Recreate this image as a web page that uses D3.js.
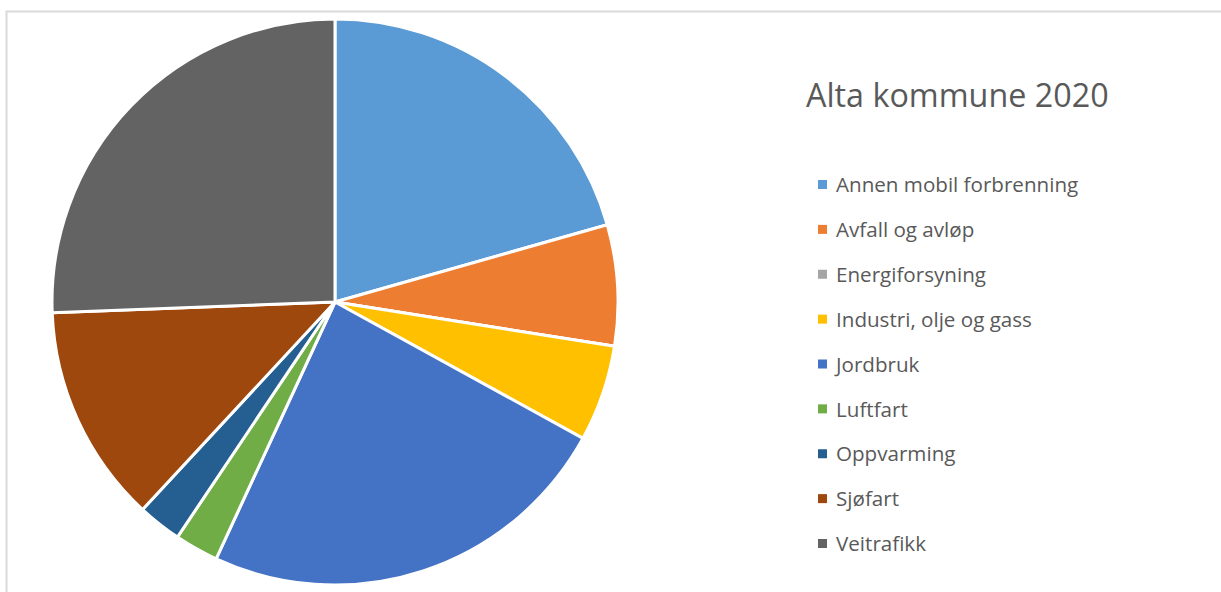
<!DOCTYPE html>
<html>
<head>
<meta charset="utf-8">
<script src="https://cdn.jsdelivr.net/npm/d3@7"></script>
<style>
  body { margin: 0; background: #fff; }
  text { font-family: "Open Sans", sans-serif; fill: #595959; font-variant-ligatures: none; }
</style>
</head>
<body>
<svg id="chart" width="1221" height="592"></svg>
<script>
const categories = ["Annen mobil forbrenning", "Avfall og avløp", "Energiforsyning",
    "Industri, olje og gass", "Jordbruk", "Luftfart", "Oppvarming", "Sjøfart", "Veitrafikk"];
const values = [20.6, 6.9, 0.0, 5.5, 23.9, 2.5, 2.5, 12.5, 25.6];
const colors = ["#5b9bd5", "#ed7d31", "#a5a5a5", "#ffc000", "#4472c4",
    "#70ad47", "#255e91", "#9e480e", "#636363"];
const title = "Alta kommune 2020";

const svg = d3.select("#chart");

// chart frame
svg.append("rect")
    .attr("x", 6.5).attr("y", 11.5)
    .attr("width", 1240).attr("height", 620)
    .attr("fill", "none")
    .attr("stroke", "#d9d9d9")
    .attr("stroke-width", 2);

const cx = 335, cy = 302, radius = 283;

const pie = d3.pie().sort(null).value(d => d);
const arc = d3.arc().innerRadius(0).outerRadius(radius);

const color = d3.scaleOrdinal().domain(categories).range(colors);

svg.append("g")
    .attr("transform", `translate(${cx},${cy})`)
    .selectAll("path")
    .data(pie(values))
    .join("path")
    .attr("d", arc)
    .attr("fill", (d, i) => color(categories[i]))
    .attr("stroke", "#fff")
    .attr("stroke-width", 3)
    .attr("stroke-linejoin", "round");

svg.append("text")
    .attr("x", 806).attr("y", 107)
    .attr("font-size", 32.3)
    .text(title);

const legendY = d3.scalePoint().domain(categories).range([185, 544]);

const legend = svg.append("g").selectAll("g")
    .data(categories)
    .join("g")
    .attr("transform", d => `translate(818,${legendY(d)})`);

legend.append("rect")
    .attr("x", 0).attr("y", -5)
    .attr("width", 9).attr("height", 9)
    .attr("fill", d => color(d));

legend.append("text")
    .attr("x", 18).attr("y", 0)
    .attr("dy", "0.35em")
    .attr("font-size", 20.6)
    .text(d => d);
</script>
</body>
</html>
